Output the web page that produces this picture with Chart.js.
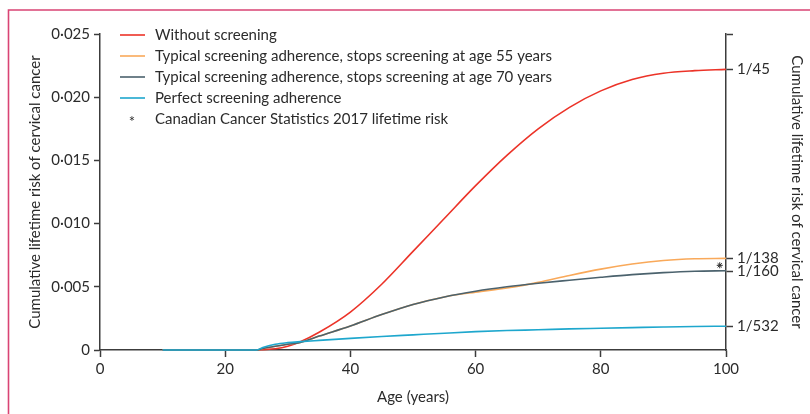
<!DOCTYPE html>
<html>
<head>
<meta charset="utf-8">
<script src="https://cdn.jsdelivr.net/npm/chart.js@4/dist/chart.umd.min.js"></script>
<style>
  body { margin: 0; background: #fff; }
  canvas { display: block; }
</style>
</head>
<body>
<canvas id="riskChart" width="810" height="414"></canvas>
<script>
// ages sampled for every curve
var ages = [10, 15, 20, 25, 26, 28, 30, 32, 35, 40, 45, 50, 55, 60, 65, 70, 75, 80, 85, 90, 95, 100];

var noScreening = [0, 0, 0, 0, 0.00003, 0.0001, 0.0003, 0.00065, 0.0014, 0.003, 0.0052, 0.0078, 0.0104, 0.013, 0.0154, 0.0175, 0.0192, 0.0205, 0.0214, 0.0219, 0.0221, 0.0222];
var stopAt55 = [0, 0, 0, 0, 0.00012, 0.0003, 0.00045, 0.0006, 0.0011, 0.0019, 0.0028, 0.0036, 0.0042, 0.00458, 0.0049, 0.00535, 0.0059, 0.0064, 0.0068, 0.00708, 0.00722, 0.00725];
var stopAt70 = [0, 0, 0, 0, 0.00012, 0.0003, 0.00045, 0.0006, 0.0011, 0.0019, 0.0028, 0.0036, 0.0042, 0.00465, 0.005, 0.00528, 0.00552, 0.00575, 0.00596, 0.00612, 0.00623, 0.00627];
var perfect = [0, 0, 0, 0, 0.0002, 0.00045, 0.00058, 0.00066, 0.00076, 0.00092, 0.00107, 0.0012, 0.00133, 0.00145, 0.00154, 0.0016, 0.00167, 0.00172, 0.00177, 0.00182, 0.00186, 0.00188];

// Canadian Cancer Statistics 2017 point
var canadaAge = [99];
var canadaRisk = [0.0067];

var riskTicks = [1 / 532, 1 / 160, 1 / 138, 1 / 45, 0.025];
var riskLabels = ['1/532', '1/160', '1/138', '1/45', ''];

var seriesLabels = [
  'Without screening',
  'Typical screening adherence, stops screening at age 55 years',
  'Typical screening adherence, stops screening at age 70 years',
  'Perfect screening adherence',
  'Canadian Cancer Statistics 2017 lifetime risk'
];

var FONT = 'Lato, "Open Sans", sans-serif';
var SIZE = 15;
var INK = '#2b2b2b';
var AXIS = '#3c3c3c';

function points(xs, ys) {
  return xs.map(function (x, i) { return { x: x, y: ys[i] }; });
}

function lineSet(label, values, color, order) {
  return {
    type: 'line',
    label: label,
    data: points(ages, values),
    borderColor: color,
    backgroundColor: color,
    borderWidth: 1.6,
    pointRadius: 0,
    cubicInterpolationMode: 'monotone',
    clip: 4,
    order: order
  };
}

// pink frame round the figure
var framePlugin = {
  id: 'frame',
  beforeDraw: function (chart) {
    var ctx = chart.ctx;
    ctx.save();
    ctx.fillStyle = '#fff';
    ctx.fillRect(0, 0, chart.width, chart.height);
    ctx.strokeStyle = '#d94474';
    ctx.lineWidth = 1.6;
    ctx.beginPath();
    ctx.moveTo(8.5, chart.height);
    ctx.lineTo(8.5, 10);
    ctx.lineTo(chart.width, 10);
    ctx.stroke();
    ctx.restore();
  }
};

// legend inside the plot, top left
var legendPlugin = {
  id: 'insideLegend',
  afterDraw: function (chart) {
    var ctx = chart.ctx;
    var x0 = chart.chartArea.left + 20;
    var y0 = chart.chartArea.top + 1;
    ctx.save();
    ctx.font = SIZE + 'px ' + FONT;
    ctx.textBaseline = 'middle';
    chart.data.datasets.forEach(function (ds, i) {
      var y = y0 + i * 21;
      if (ds.type === 'line') {
        ctx.strokeStyle = ds.borderColor;
        ctx.lineWidth = 1.6;
        ctx.beginPath();
        ctx.moveTo(x0, y);
        ctx.lineTo(x0 + 25, y);
        ctx.stroke();
      } else {
        ctx.fillStyle = INK;
        ctx.textAlign = 'center';
        ctx.fillText('*', x0 + 12, y + 3);
      }
      ctx.fillStyle = INK;
      ctx.textAlign = 'left';
      ctx.fillText(ds.label, x0 + 35, y);
    });
    ctx.restore();
  }
};

var ctx = document.getElementById('riskChart');

new Chart(ctx, {
  data: {
    datasets: [
      lineSet(seriesLabels[0], noScreening, '#ec3328', 4),
      lineSet(seriesLabels[1], stopAt55, '#f9a95a', 3),
      lineSet(seriesLabels[2], stopAt70, '#4b626d', 2),
      lineSet(seriesLabels[3], perfect, '#1ea7cd', 1),
      {
        type: 'scatter',
        label: seriesLabels[4],
        data: points(canadaAge, canadaRisk),
        pointStyle: 'star',
        pointRadius: 3,
        borderWidth: 1,
        borderColor: INK,
        backgroundColor: INK,
        order: 0
      }
    ]
  },
  options: {
    responsive: false,
    animation: false,
    layout: { padding: { top: 34, left: 0, right: 0, bottom: 0 } },
    plugins: {
      legend: { display: false },
      tooltip: { enabled: false }
    },
    scales: {
      x: {
        type: 'linear',
        min: 0,
        max: 100,
        afterFit: function (s) { s.height = 64; },
        ticks: {
          stepSize: 20,
          color: INK,
          padding: 3,
          font: { family: FONT, size: SIZE }
        },
        grid: { drawOnChartArea: false, tickLength: 7, tickColor: AXIS, tickWidth: 1.5 },
        border: { color: AXIS, width: 1.5 },
        title: {
          display: true,
          text: 'Age (years)',
          color: INK,
          font: { family: FONT, size: SIZE },
          padding: { top: 0, bottom: 8 }
        }
      },
      y: {
        position: 'left',
        min: 0,
        max: 0.025,
        afterFit: function (s) { s.width = 100; },
        ticks: {
          stepSize: 0.005,
          color: INK,
          padding: 4,
          font: { family: FONT, size: SIZE },
          callback: function (v) {
            return v === 0 ? '0' : v.toFixed(3).replace('.', '\u00b7');
          }
        },
        grid: { drawOnChartArea: false, tickLength: 6, tickColor: AXIS, tickWidth: 1.5 },
        border: { color: AXIS, width: 1.5 },
        title: {
          display: true,
          text: 'Cumulative lifetime risk of cervical cancer',
          color: INK,
          font: { family: FONT, size: SIZE },
          padding: { top: 26, bottom: 0 }
        }
      },
      y2: {
        position: 'right',
        min: 0,
        max: 0.025,
        afterFit: function (s) { s.width = 84; },
        afterBuildTicks: function (s) {
          s.ticks = riskTicks.map(function (v) { return { value: v }; });
        },
        ticks: {
          autoSkip: false,
          color: INK,
          padding: 4,
          font: { family: FONT, size: SIZE },
          callback: function (v, i) { return riskLabels[i]; }
        },
        grid: { drawOnChartArea: false, tickLength: 7, tickColor: AXIS, tickWidth: 1.5 },
        border: { color: AXIS, width: 1.5 },
        title: {
          display: true,
          text: 'Cumulative lifetime risk of cervical cancer',
          color: INK,
          font: { family: FONT, size: SIZE },
          padding: { top: 4, bottom: 0 }
        }
      }
    }
  },
  plugins: [framePlugin, legendPlugin]
});
</script>
</body>
</html>
